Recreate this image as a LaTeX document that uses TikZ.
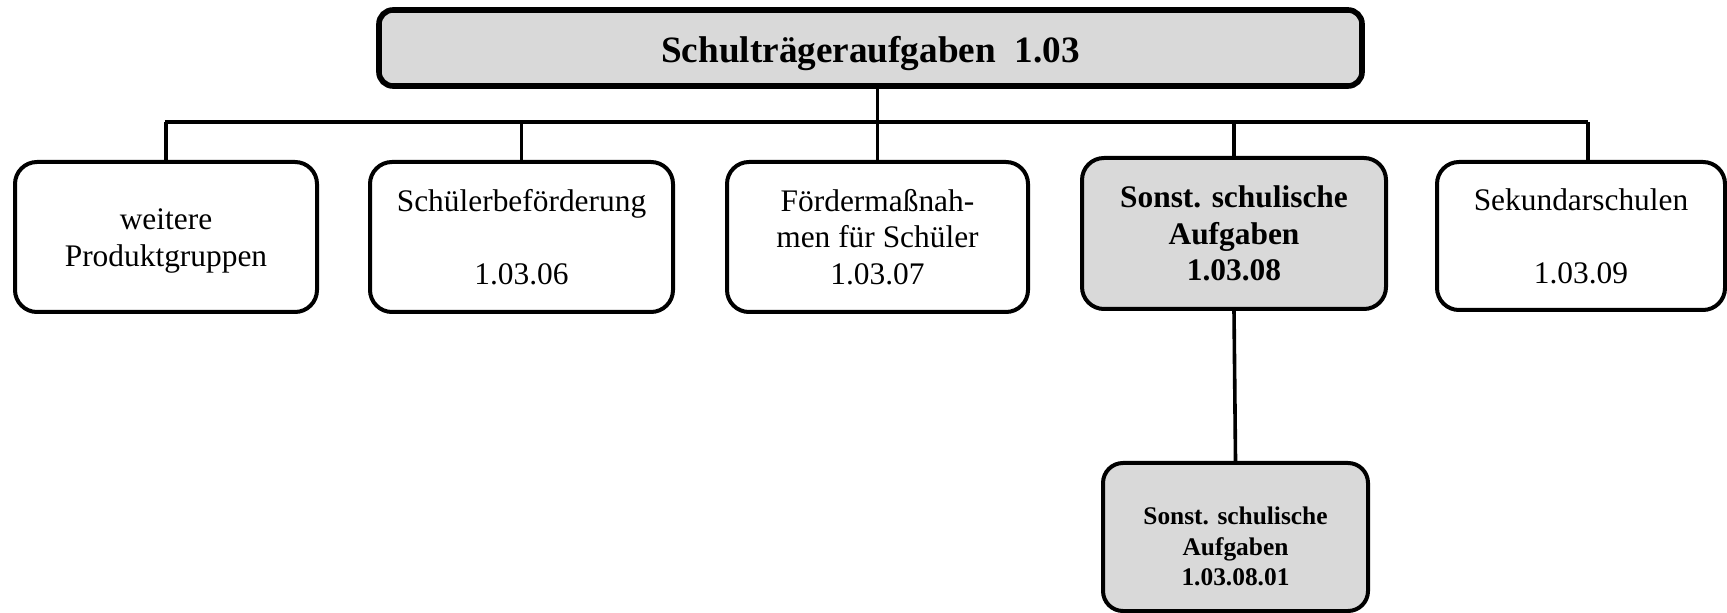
\documentclass[tikz,border=0pt]{standalone}
\usepackage{fontspec}
\setmainfont{Liberation Serif}
\definecolor{boxgray}{RGB}{217,217,217}
\newcommand\topr[1]{\rule{0pt}{#1}}
\newcommand\botr[1]{\rule[-#1]{0pt}{#1}}
\begin{document}
\begin{tikzpicture}[x=0.5pt,y=-0.5pt,
  conn/.style={line width=1.8pt},
  box/.style={draw, line width=2pt, rounded corners=11pt, fill=white,
    align=center, inner sep=0pt,
    font=\fontsize{15.7}{18.25}\selectfont},
  shaded/.style={fill=boxgray, font=\bfseries\fontsize{15.7}{18.25}\selectfont},
  headbox/.style={draw, line width=2.8pt, rounded corners=7pt, fill=boxgray,
    align=center, inner sep=0pt,
    font=\bfseries\fontsize{18.6}{22}\selectfont}]
\useasboundingbox (0,0) rectangle (1727,613);

% nodes
\node[headbox, minimum width=491.5pt, minimum height=38pt] (top) at (870.5,48)
  {\topr{19pt}Schulträgeraufgaben\enspace1.03\botr{4pt}};

\node[box, minimum width=151pt, minimum height=75pt] (b1) at (166,237)
  {\topr{16.5pt}weitere\\Produktgruppen\botr{5.5pt}};
\node[box, minimum width=151.5pt, minimum height=75pt] (b2) at (521.5,237)
  {\topr{16.5pt}Schülerbeförderung\\[18.25pt]1.03.06\botr{5.5pt}};
\node[box, minimum width=150.5pt, minimum height=75pt] (b3) at (877.5,237)
  {\topr{16.5pt}Fördermaßnah-\\men für Schüler\\1.03.07\botr{5.5pt}};
\node[box, shaded, minimum width=152pt, minimum height=75.5pt] (b4) at (1234,233.5)
  {\topr{16.5pt}Sonst. schulische\\Aufgaben\\1.03.08\botr{5.5pt}};
\node[box, minimum width=144pt, minimum height=74pt] (b5) at (1581,236)
  {\topr{16.5pt}Sekundarschulen\\[18.25pt]1.03.09\botr{5.5pt}};
\node[box, shaded, rounded corners=10pt, minimum width=132.5pt, minimum height=74pt,
  font=\bfseries\fontsize{12.7}{15}\selectfont] (b6) at (1235.5,537)
  {\topr{22.5pt}Sonst. schulische\\Aufgaben\\1.03.08.01\botr{4.5pt}};

% connectors
\coordinate (busL) at (165,122);
\coordinate (busR) at (1588,122);
\draw[conn] (b3.north) -- (b3.north |- top.south);
\draw[conn] (busL) -- (busR);
\draw[conn] (b1.north) -- (b1.north |- busL);
\draw[conn] (b2.north) -- (b2.north |- busL);
\draw[conn] (b4.north) -- (b4.north |- busL);
\draw[conn] (busR) -- (busR |- b5.north);
\draw[conn] (b4.south) -- (b6.north);
\end{tikzpicture}
\end{document}
